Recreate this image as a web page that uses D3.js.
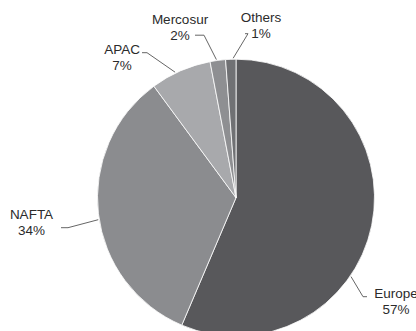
<!DOCTYPE html>
<html>
<head>
<meta charset="utf-8">
<script src="https://cdn.jsdelivr.net/npm/d3@7"></script>
<style>
  body { margin: 0; background: #fff; }
  svg { display: block; }
  text { font-family: Arial, "Liberation Sans", Helvetica, sans-serif; font-size: 13.5px; fill: #2b2b2b; }
</style>
</head>
<body>
<div id="chart"></div>
<script>
// Data (share of sales by region)
const regions = ["Europe", "NAFTA", "APAC", "Mercosur", "Others"];
const shares = [56.4, 33.5, 7.1, 1.8, 1.2];
const shareLabels = ["57%", "34%", "7%", "2%", "1%"];

const colors = ["#58585b", "#8b8c8f", "#a8a9ac", "#8e8f92", "#707174"];

// Label placement (hand placed, relative to pie centre)
// attach: where on the slice edge the leader starts (0..1 of its arc)
// elbow: bend of the leader, end: end of its short horizontal, text: label centre
const labelLayout = [
  { attach: 0.613, elbow: [127, 99], end: [131, 99], text: [160, 100] },
  { attach: 0.48, elbow: [-168, 30], end: [-175, 30], text: [-204.5, 21] },
  { attach: 0.41, elbow: [-89, -145], end: [-94, -145], text: [-114, -144] },
  { attach: 0.42, elbow: [-32, -162.5], end: [-41, -162.5], text: [-56, -174] },
  { attach: 0.73, elbow: [12, -164], end: [9, -164], text: [25, -176] }
];

const width = 416, height = 331;
const cx = 236, cy = 197.7, radius = 138.5;

const svg = d3
  .select("#chart")
  .append("svg")
  .attr("width", width)
  .attr("height", height);

const g = svg.append("g").attr("transform", `translate(${cx},${cy})`);

const pie = d3.pie().sort(null).value((d) => d);
const arcs = pie(shares);

const arc = d3.arc().innerRadius(0).outerRadius(radius);

g.selectAll("path.slice")
  .data(arcs)
  .enter()
  .append("path")
  .attr("class", "slice")
  .attr("d", arc)
  .attr("fill", (d, i) => colors[i])
  .attr("stroke", "#fff")
  .attr("stroke-width", 0.8);

// Leader lines
function attachPoint(d, i) {
  const a = d.startAngle + (d.endAngle - d.startAngle) * labelLayout[i].attach;
  return [Math.sin(a) * (radius + 1), -Math.cos(a) * (radius + 1)];
}

g.selectAll("path.leader")
  .data(arcs)
  .enter()
  .append("path")
  .attr("class", "leader")
  .attr("fill", "none")
  .attr("stroke", "#666")
  .attr("stroke-width", 1)
  .attr("d", (d, i) => d3.line()([attachPoint(d, i), labelLayout[i].elbow, labelLayout[i].end]));

// Labels
const labels = g
  .selectAll("text.label")
  .data(arcs)
  .enter()
  .append("text")
  .attr("class", "label")
  .attr("text-anchor", "middle")
  .attr("transform", (d, i) => `translate(${labelLayout[i].text[0]},${labelLayout[i].text[1]})`);

labels.append("tspan").attr("x", 0).attr("y", 0).text((d, i) => regions[i]);
labels.append("tspan").attr("x", 0).attr("y", 16).text((d, i) => shareLabels[i]);
</script>
</body>
</html>
